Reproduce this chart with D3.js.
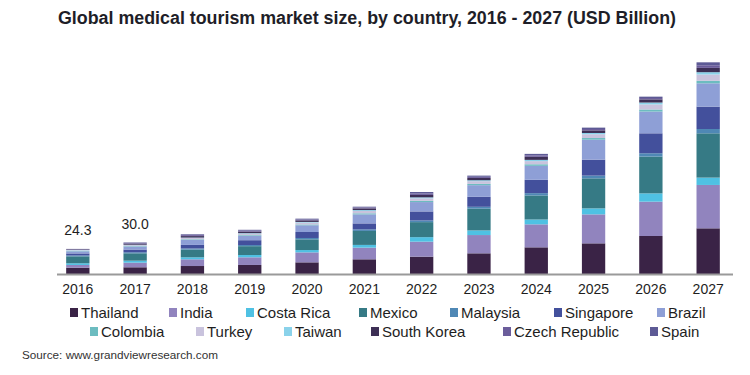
<!DOCTYPE html>
<html>
<head>
<meta charset="utf-8">
<script src="https://cdn.jsdelivr.net/npm/d3@7"></script>
<style>
  body { margin: 0; background: #fff; }
  text { font-family: "Liberation Sans", Arial, sans-serif; }
</style>
</head>
<body>
<div id="container"></div>
<script>
let w = 750;
let h = 375;

// DATA (USD Billion)
let years = ["2016", "2017", "2018", "2019", "2020", "2021", "2022", "2023", "2024", "2025", "2026", "2027"];
let countries = ["Thailand", "India", "Costa Rica", "Mexico", "Malaysia", "Singapore", "Brazil",
                 "Colombia", "Turkey", "Taiwan", "South Korea", "Czech Republic", "Spain"];
let colors = ["#3a2346", "#9184be", "#4fc1e3", "#367a85", "#4f88b5", "#43509c", "#8e9fd6",
              "#6cbcc0", "#c9c3dd", "#8ad2ea", "#3d2f55", "#6b5d9b", "#5d5a95"];

let thailand    = [6.0, 6.4, 7.6, 8.6, 11.1, 14.0, 16.5, 19.7, 25.4, 29.2, 36.2, 43.5];
let india       = [2.6, 4.4, 6.4, 7.3, 9.5, 11.1, 14.3, 17.4, 21.9, 27.6, 32.7, 41.3];
let costaRica   = [1.6, 1.9, 1.9, 2.2, 2.2, 2.6, 4.3, 4.4, 4.6, 5.7, 7.9, 7.0];
let mexico      = [6.6, 7.0, 7.4, 8.4, 10.2, 13.3, 14.3, 20.7, 22.9, 28.6, 35.0, 42.2];
let malaysia    = [0.9, 1.0, 1.0, 1.1, 1.3, 1.5, 1.6, 1.8, 2.2, 2.6, 3.2, 4.1];
let singapore   = [1.9, 2.6, 3.4, 4.6, 5.7, 5.7, 8.6, 9.5, 12.7, 15.2, 19.0, 21.3];
let brazil      = [2.0, 2.8, 4.8, 4.1, 6.4, 8.6, 8.9, 11.1, 13.3, 19.0, 20.7, 22.2];
let colombia    = [0.4, 0.5, 0.6, 0.7, 0.8, 1.0, 1.2, 1.2, 1.5, 1.6, 2.0, 2.4];
let turkey      = [0.6, 0.9, 1.2, 1.4, 1.8, 2.3, 2.4, 2.6, 3.0, 3.6, 4.8, 6.0];
let taiwan      = [0.3, 0.4, 0.4, 0.5, 0.6, 0.8, 0.9, 0.9, 1.2, 1.2, 1.8, 2.2];
let southKorea  = [0.5, 1.0, 1.4, 1.5, 1.5, 1.6, 2.3, 2.2, 2.9, 2.5, 3.0, 4.1];
let czech       = [0.3, 0.6, 0.9, 0.9, 0.8, 0.8, 1.4, 1.1, 1.4, 1.3, 1.3, 2.5];
let spain       = [0.2, 0.5, 0.8, 0.8, 0.8, 0.8, 1.4, 1.1, 1.4, 1.3, 1.3, 2.8];

let series = [thailand, india, costaRica, mexico, malaysia, singapore, brazil,
              colombia, turkey, taiwan, southKorea, czech, spain];

// labels shown above the first two bars
let labelYears = ["2016", "2017"];
let labelTexts = ["24.3", "30.0"];

// build table for d3.stack
let table = years.map((yr, i) => {
    let row = { year: yr };
    countries.forEach((c, j) => { row[c] = series[j][i]; });
    return row;
});

let viz = d3.select("#container").append("svg")
    .attr("width", w)
    .attr("height", h)
    .style("background-color", "white");

let baseY = 274;

let xScale = d3.scaleBand()
    .domain(years)
    .range([57, 729])
    .paddingInner(0.593)
    .paddingOuter(0.16);

let yScale = d3.scaleLinear()
    .domain([0, 210])
    .range([baseY, baseY - 210 * 1.05]);

let color = d3.scaleOrdinal().domain(countries).range(colors);

let stacked = d3.stack().keys(countries)(table);

// title
viz.append("text")
    .attr("x", 367)
    .attr("y", 24)
    .attr("text-anchor", "middle")
    .attr("textLength", 618)
    .attr("lengthAdjust", "spacingAndGlyphs")
    .style("font-size", "18px")
    .style("font-weight", "bold")
    .style("fill", "#1e1e28")
    .text("Global medical tourism market size, by country, 2016 - 2027 (USD Billion)");

// bars
viz.append("g").selectAll("g").data(stacked).enter()
    .append("g")
    .attr("fill", d => color(d.key))
    .selectAll("rect").data(d => d).enter()
    .append("rect")
    .attr("x", d => xScale(d.data.year))
    .attr("width", xScale.bandwidth())
    .attr("y", d => yScale(d[1]))
    .attr("height", d => yScale(d[0]) - yScale(d[1]));

// x axis
let xAxis = viz.append("g")
    .attr("transform", "translate(0," + baseY + ")")
    .call(d3.axisBottom(xScale).tickSize(0).tickPadding(10));
xAxis.select(".domain").remove();
xAxis.selectAll("text")
    .style("font-size", "14px")
    .style("font-family", "Liberation Sans, Arial, sans-serif")
    .style("fill", "#1e1e1e");
viz.append("line")
    .attr("x1", 57).attr("x2", 733)
    .attr("y1", baseY + 0.5).attr("y2", baseY + 0.5)
    .attr("stroke", "#9a9a9a")
    .attr("stroke-width", 2);

// value labels
labelYears.forEach((yr, i) => {
    let idx = years.indexOf(yr);
    let total = d3.sum(series, s => s[idx]);
    viz.append("text")
        .attr("x", xScale(yr) + xScale.bandwidth() / 2)
        .attr("y", yScale(total) - 14)
        .attr("text-anchor", "middle")
        .style("font-size", "14px")
        .style("fill", "#1e1e1e")
        .text(labelTexts[i]);
});

// legend
let legendRows = [
    { y: 318, items: [["Thailand", 74], ["India", 173], ["Costa Rica", 250], ["Mexico", 363],
                      ["Malaysia", 454], ["Singapore", 558], ["Brazil", 661]] },
    { y: 337, items: [["Colombia", 94], ["Turkey", 200], ["Taiwan", 288], ["South Korea", 375],
                      ["Czech Republic", 507], ["Spain", 654]] }
];
let legend = viz.append("g");
legendRows.forEach(row => {
    let g = legend.append("g");
    g.selectAll("rect").data(row.items).enter()
        .append("rect")
        .attr("x", d => d[1] - 4)
        .attr("y", row.y - 10)
        .attr("width", 8)
        .attr("height", 9)
        .attr("fill", d => color(d[0]));
    g.selectAll("text").data(row.items).enter()
        .append("text")
        .attr("x", d => d[1] + 7)
        .attr("y", row.y)
        .style("font-size", "15px")
        .style("fill", "#1e1e1e")
        .text(d => d[0]);
});

// source
viz.append("text")
    .attr("x", 22)
    .attr("y", 359)
    .attr("textLength", 196)
    .attr("lengthAdjust", "spacingAndGlyphs")
    .style("font-size", "11.5px")
    .style("fill", "#333")
    .text("Source: www.grandviewresearch.com");
</script>
</body>
</html>
